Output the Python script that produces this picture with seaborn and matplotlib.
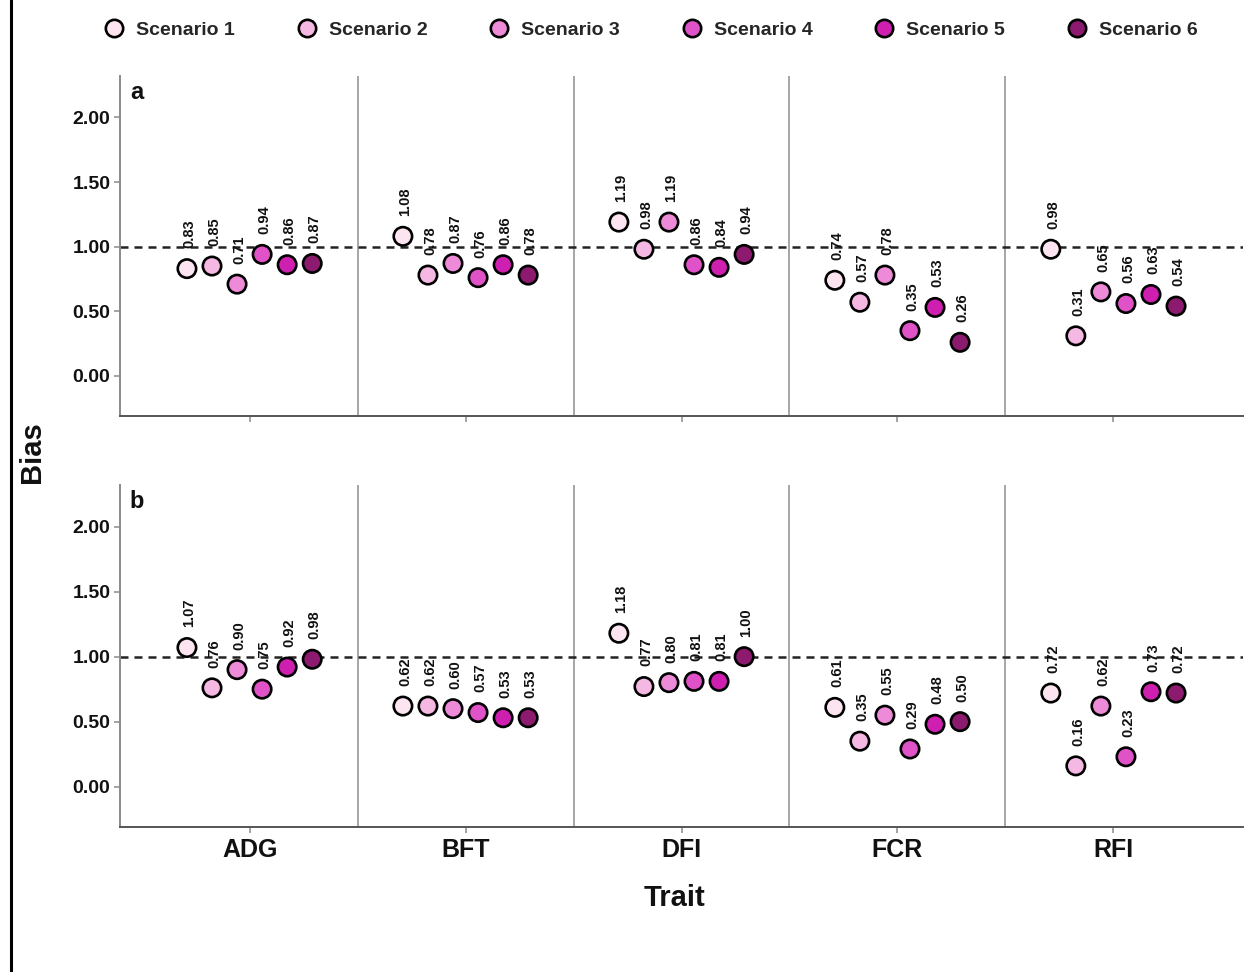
import numpy as np
import pandas as pd
import seaborn as sns
import matplotlib
matplotlib.use("Agg")
import matplotlib.pyplot as plt
from matplotlib.lines import Line2D

sns.set_theme(style="white")
plt.rcParams['font.family'] = ['Liberation Sans', 'DejaVu Sans']

traits = ["ADG", "BFT", "DFI", "FCR", "RFI"]
scenarios = ["Scenario 1", "Scenario 2", "Scenario 3", "Scenario 4", "Scenario 5", "Scenario 6"]
colors = ["#fce4f1", "#f5b8e3", "#ee8bd8", "#e052c8", "#cf1fb0", "#8c1a6e"]

# Panel a: values per trait (Scenario 1..6)
bias_a_ADG = [0.83, 0.85, 0.71, 0.94, 0.86, 0.87]
bias_a_BFT = [1.08, 0.78, 0.87, 0.76, 0.86, 0.78]
bias_a_DFI = [1.19, 0.98, 1.19, 0.86, 0.84, 0.94]
bias_a_FCR = [0.74, 0.57, 0.78, 0.35, 0.53, 0.26]
bias_a_RFI = [0.98, 0.31, 0.65, 0.56, 0.63, 0.54]
# Panel b
bias_b_ADG = [1.07, 0.76, 0.90, 0.75, 0.92, 0.98]
bias_b_BFT = [0.62, 0.62, 0.60, 0.57, 0.53, 0.53]
bias_b_DFI = [1.18, 0.77, 0.80, 0.81, 0.81, 1.00]
bias_b_FCR = [0.61, 0.35, 0.55, 0.29, 0.48, 0.50]
bias_b_RFI = [0.72, 0.16, 0.62, 0.23, 0.73, 0.72]

yticks = [0.0, 0.5, 1.0, 1.5, 2.0]
ytick_labels = ["0.00", "0.50", "1.00", "1.50", "2.00"]

panels = {
    "a": [bias_a_ADG, bias_a_BFT, bias_a_DFI, bias_a_FCR, bias_a_RFI],
    "b": [bias_b_ADG, bias_b_BFT, bias_b_DFI, bias_b_FCR, bias_b_RFI],
}

dodge = 0.116

def make_df(rows):
    recs = []
    for ti, t in enumerate(traits):
        for si, s in enumerate(scenarios):
            recs.append({"Trait": t, "Scenario": s, "Bias": rows[ti][si],
                         "xpos": ti + (si - 2.5) * dodge})
    return pd.DataFrame(recs)

W, H = 1254, 972
fig = plt.figure(figsize=(W / 100, H / 100), dpi=100)

def fx(px):
    return px / W

def fy(py):
    return 1 - py / H

ax_a = fig.add_axes([fx(120), fy(416), fx(1243) - fx(120), fy(76) - fy(416)])
ax_b = fig.add_axes([fx(120), fy(827), fx(1243) - fx(120), fy(485) - fy(827)])

palette = dict(zip(scenarios, colors))

for key, ax in [("a", ax_a), ("b", ax_b)]:
    df = make_df(panels[key])
    ax.axhline(1.0, color="#222222", lw=1.8, ls=(0, (3.2, 2.4)), zorder=1)
    for b in [0.5, 1.5, 2.5, 3.5]:
        ax.axvline(b, color="#a6a6a6", lw=1.4, zorder=0)
    sns.scatterplot(data=df, x="xpos", y="Bias", hue="Scenario", palette=palette,
                    hue_order=scenarios, s=175, edgecolor="black", linewidth=1.9,
                    legend=False, ax=ax, zorder=3)
    for _, r in df.iterrows():
        ax.annotate(f"{r['Bias']:.2f}", (r["xpos"], r["Bias"]), xytext=(1.5, 14.5),
                    textcoords="offset points", rotation=90, ha="center", va="bottom",
                    fontsize=10.5, fontweight="bold", color="#111111", zorder=4)
    ax.set_xlim(-0.6, 4.6)
    ax.set_ylim(-0.31, 2.32)
    ax.set_yticks(yticks)
    ax.set_yticklabels(ytick_labels, fontsize=14, fontweight="bold")
    ax.set_xticks(range(len(traits)))
    if key == "b":
        ax.set_xticklabels(traits, fontsize=18, fontweight="bold")
    else:
        ax.set_xticklabels([])
    ax.set_xlabel("")
    ax.set_ylabel("")
    for sp in ["top", "right"]:
        ax.spines[sp].set_visible(False)
    ax.spines["left"].set_color("#8a8a8a")
    ax.spines["left"].set_linewidth(1.4)
    ax.spines["bottom"].set_color("#555555")
    ax.spines["bottom"].set_linewidth(1.4)
    ax.tick_params(axis="both", which="both", length=4, width=1.1, color="#8a8a8a",
                   labelcolor="#111111", left=True, bottom=True)
    ax.tick_params(axis="y", pad=3)
    ax.tick_params(axis="x", pad=4)
    ax.text(0.015, 0.985, key, transform=ax.transAxes, ha="center", va="top",
            fontsize=17, fontweight="bold", color="#111111")
    ax.set_facecolor("white")

fig.text(fx(32), fy(452), "Bias", rotation=90, ha="center", va="center",
         fontsize=21, fontweight="bold", color="#111111")
fig.text(fx(675), fy(898), "Trait", ha="center", va="center",
         fontsize=21, fontweight="bold", color="#111111")

handles = [Line2D([0], [0], marker="o", linestyle="", markersize=12.5,
                  markerfacecolor=c, markeredgecolor="black", markeredgewidth=1.9)
           for c in colors]
leg = fig.legend(handles, scenarios, loc="center", bbox_to_anchor=(fx(652), fy(30)),
                 ncol=6, frameon=False, handlelength=0.8, handletextpad=0.73,
                 columnspacing=3.3, prop={"weight": "bold", "size": 14})

fig.add_artist(Line2D([fx(11), fx(11)], [0, 1], color="black", lw=2.2,
                      transform=fig.transFigure))

fig.savefig("out.png", dpi=100, facecolor="white")
